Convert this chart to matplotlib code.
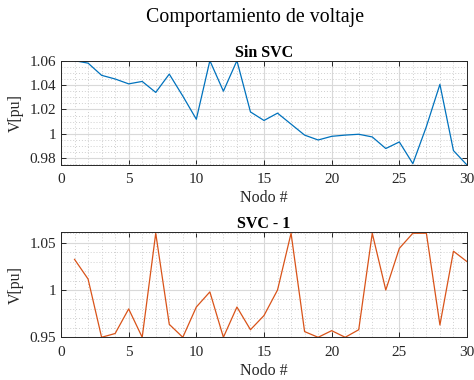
import matplotlib
matplotlib.use("Agg")
import matplotlib.pyplot as plt
from matplotlib.ticker import MultipleLocator, FixedLocator, FuncFormatter

plt.rcParams['font.family'] = ['Liberation Serif', 'DejaVu Serif']

nodes = list(range(1, 31))

v_sin_svc = [1.060, 1.058, 1.048, 1.045, 1.041, 1.043, 1.034, 1.049, 1.031, 1.012,
             1.060, 1.035, 1.060, 1.018, 1.011, 1.017, 1.008, 0.999, 0.995, 0.998,
             0.999, 0.9997, 0.9975, 0.988, 0.9934, 0.9756, 1.006, 1.0406, 0.9863, 0.9745]

v_svc_1 = [1.0324, 1.0116, 0.950, 0.954, 0.980, 0.950, 1.060, 0.9637, 0.950, 0.982,
           0.998, 0.950, 0.982, 0.958, 0.973, 1.000, 1.060, 0.956, 0.950, 0.957,
           0.950, 0.958, 1.060, 1.000, 1.044, 1.060, 1.060, 0.963, 1.041, 1.030]

x_ticks = [0, 5, 10, 15, 20, 25, 30]
y_ticks_top = [0.98, 1.00, 1.02, 1.04, 1.06]
y_ticks_bot = [0.95, 1.00, 1.05]

blue = '#0072BD'
orange = '#D95319'
axis_gray = '#262626'


def fmt(v, pos):
    s = f"{v:.2f}".rstrip('0').rstrip('.')
    return s


def style_axes(ax, yticks, yminor):
    ax.set_xlim(0, 30)
    ax.xaxis.set_major_locator(FixedLocator(x_ticks))
    ax.xaxis.set_minor_locator(MultipleLocator(1))
    ax.yaxis.set_major_locator(FixedLocator(yticks))
    ax.yaxis.set_minor_locator(MultipleLocator(yminor))
    ax.yaxis.set_major_formatter(FuncFormatter(fmt))
    ax.grid(which='major', color='#d9d9d9', linewidth=0.8, linestyle='-')
    ax.grid(which='minor', color='#cfcfcf', linewidth=0.7, linestyle=(0, (1, 2)))
    ax.set_axisbelow(True)
    ax.tick_params(which='major', direction='in', length=3.5, width=0.7,
                   top=True, right=True, colors=axis_gray, labelsize=11)
    ax.tick_params(axis='x', which='major', pad=6)
    ax.tick_params(which='minor', length=0, top=True, right=True)
    for s in ax.spines.values():
        s.set_color(axis_gray)
        s.set_linewidth(0.7)
    ax.set_xlabel('Nodo #', fontsize=11.5, color=axis_gray, labelpad=3)
    ax.set_ylabel('V[pu]', fontsize=11.5, color=axis_gray, labelpad=4)


fig = plt.figure(figsize=(4.74, 3.80), dpi=100)

ax1 = fig.add_axes([0.1287, 0.5658, 0.8565, 0.2745])
ax1.plot(nodes, v_sin_svc, color=blue, linewidth=0.9)
ax1.set_ylim(0.9745, 1.06)
style_axes(ax1, y_ticks_top, 0.005)
ax1.set_title('Sin SVC', fontsize=11.5, fontweight='bold', pad=3)

ax2 = fig.add_axes([0.1287, 0.1124, 0.8565, 0.2763])
ax2.plot(nodes, v_svc_1, color=orange, linewidth=0.9)
ax2.set_ylim(0.95, 1.061)
style_axes(ax2, y_ticks_bot, 0.01)
ax2.set_title('SVC - 1', fontsize=11.5, fontweight='bold', pad=3)

fig.text(0.538, 0.955, 'Comportamiento de voltaje', ha='center', va='center',
         fontsize=14.3)

fig.savefig('out.png', dpi=100)
